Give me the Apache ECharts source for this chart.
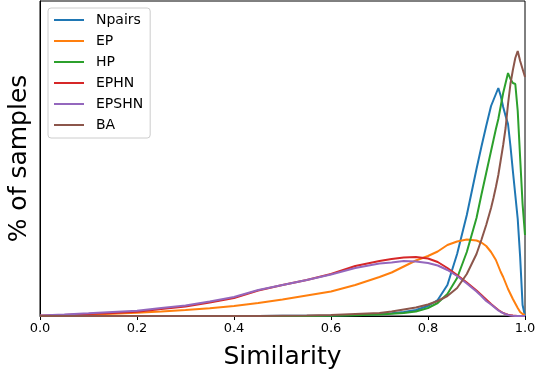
<!DOCTYPE html>
<html>
<head>
<meta charset="utf-8">
<script src="https://cdn.jsdelivr.net/npm/echarts@6/dist/echarts.min.js"></script>
<style>
html,body{margin:0;padding:0;background:#fff;}
#chart{width:535px;height:375px;}
</style>
</head>
<body>
<div id="chart"></div>
<script>
// Shared similarity grid (x values)
const sim = [0,0.05,0.1,0.15,0.2,0.25,0.3,0.35,0.4,0.45,0.5,0.55,0.6,0.65,0.7,0.725,0.75,0.775,0.8,0.82,0.84,0.86,0.88,0.9,
  0.91,0.92,0.93,0.935,0.94,0.945,0.95,0.955,0.96,0.965,0.97,0.975,0.98,0.985,0.99,0.995,1.0];

const seriesNames = ['Npairs','EP','HP','EPHN','EPSHN','BA'];

const npairs = [0,0,0,0,0,0,0,0,0,0,0.002,0.003,0.005,0.01,0.02,0.028,0.04,0.06,0.1,0.16,0.31,0.62,1.01,1.47,
  1.69,1.90,2.10,2.16,2.22,2.28,2.20,2.09,2.00,1.92,1.70,1.45,1.21,0.97,0.59,0.11,0];
const ep = [0.003,0.008,0.015,0.023,0.033,0.045,0.06,0.077,0.10,0.13,0.165,0.205,0.245,0.31,0.39,0.435,0.495,0.555,0.60,0.645,0.71,0.745,0.765,0.755,
  0.735,0.70,0.64,0.60,0.56,0.50,0.44,0.39,0.33,0.27,0.22,0.17,0.125,0.08,0.04,0.02,0.01];
const hp = [0,0,0,0,0,0,0,0,0,0,0,0.001,0.003,0.008,0.015,0.022,0.03,0.045,0.08,0.13,0.22,0.38,0.64,0.98,
  1.21,1.43,1.65,1.76,1.87,1.97,2.10,2.23,2.33,2.43,2.37,2.33,2.32,2.05,1.58,1.12,0.81];
const ephn = [0.003,0.01,0.02,0.03,0.043,0.07,0.095,0.135,0.18,0.255,0.31,0.36,0.42,0.50,0.55,0.57,0.585,0.59,0.575,0.54,0.48,0.41,0.335,0.255,
  0.21,0.165,0.12,0.10,0.08,0.06,0.045,0.03,0.02,0.012,0.008,0.004,0.002,0,0,0,0];
const epshn = [0.005,0.015,0.027,0.04,0.052,0.08,0.105,0.145,0.19,0.26,0.31,0.36,0.415,0.48,0.525,0.535,0.55,0.545,0.53,0.505,0.46,0.40,0.325,0.245,
  0.20,0.15,0.115,0.095,0.075,0.055,0.04,0.028,0.018,0.01,0.006,0.003,0.001,0,0,0,0];
const ba = [0,0,0,0,0,0,0,0,0,0,0.003,0.006,0.01,0.02,0.03,0.045,0.065,0.085,0.115,0.15,0.20,0.28,0.42,0.62,
  0.76,0.91,1.08,1.18,1.29,1.41,1.56,1.71,1.88,2.12,2.32,2.46,2.58,2.65,2.55,2.47,2.39];

const colors = ['#1f77b4','#ff7f0e','#2ca02c','#d62728','#9467bd','#8c564b'];
const values = [npairs, ep, hp, ephn, epshn, ba];

const FONT = 'DejaVu Sans';
const chart = echarts.init(document.getElementById('chart'), null, {renderer:'canvas'});
chart.setOption({
  animation: false,
  backgroundColor: '#fff',
  textStyle: {fontFamily: FONT},
  grid: {left: 40, right: 10, top: 1, bottom: 59, show: true, borderColor: '#000', borderWidth: 1,
         containLabel: false, outerBoundsMode: 'none'},
  legend: {
    orient: 'vertical', left: 48, top: 8,
    padding: [5, 7, 6, 5],
    itemWidth: 30, itemHeight: 14, itemGap: 7,
    borderColor: '#cccccc', borderWidth: 1, borderRadius: 3,
    backgroundColor: 'rgba(255,255,255,0.8)',
    itemStyle: {opacity: 0},
    lineStyle: {width: 2},
    textStyle: {fontFamily: FONT, fontSize: 14, color: '#000', padding: [0,0,0,7]},
    data: seriesNames
  },
  xAxis: {
    type: 'value', min: 0, max: 1, interval: 0.2,
    axisLine: {lineStyle: {color: '#000', width: 1}},
    axisTick: {show: true, inside: false, length: 4, lineStyle: {color: '#000'}},
    axisLabel: {fontFamily: FONT, fontSize: 13, color: '#000', margin: 6, formatter: v => v.toFixed(1)},
    splitLine: {show: false},
    name: 'Similarity', nameLocation: 'middle', nameGap: 29,
    nameTextStyle: {fontFamily: FONT, fontSize: 25, color: '#000'}
  },
  yAxis: {
    type: 'value', min: 0, max: 3.15,
    axisLine: {show: true, lineStyle: {color: '#000', width: 1}},
    axisTick: {show: false}, axisLabel: {show: false}, splitLine: {show: false},
    name: '% of samples', nameLocation: 'middle', nameGap: 8, nameRotate: 90,
    nameTextStyle: {fontFamily: FONT, fontSize: 25, color: '#000'}
  },
  series: seriesNames.map((n, i) => ({
    name: n, type: 'line', symbol: 'none', showSymbol: false,
    color: colors[i],
    lineStyle: {width: 2, color: colors[i]},
    data: sim.map((x, j) => [x, values[i][j]])
  }))
});
</script>
</body>
</html>
